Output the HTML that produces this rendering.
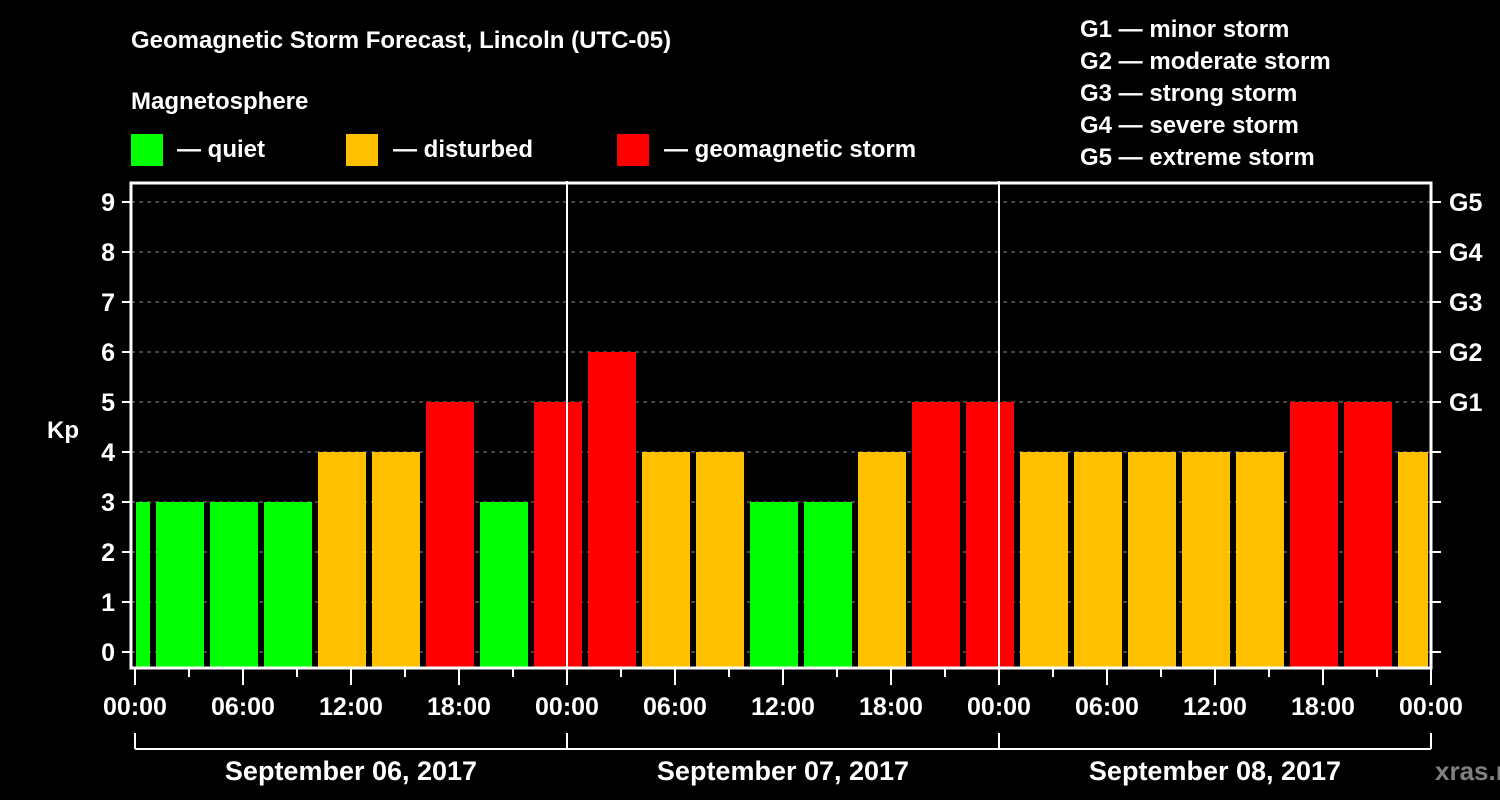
<!DOCTYPE html>
<html><head><meta charset="utf-8"><style>
body{margin:0;background:#000;width:1500px;height:800px;overflow:hidden}
svg{display:block}
text{font-family:"Liberation Sans",Arial,sans-serif;font-weight:bold;fill:#fff}
</style></head><body>
<svg id="c" width="1500" height="800" xmlns="http://www.w3.org/2000/svg">
<rect width="1500" height="800" fill="#000"/>
<text x="131" y="48" font-size="24">Geomagnetic Storm Forecast, Lincoln (UTC-05)</text>
<text x="131" y="109" font-size="24">Magnetosphere</text>
<g><rect x="131" y="134" width="32" height="32" fill="#00ff00"/><text x="177" y="157" font-size="24">— quiet</text></g>
<g><rect x="346" y="134" width="32" height="32" fill="#ffc000"/><text x="393" y="157" font-size="24">— disturbed</text></g>
<g><rect x="617" y="134" width="32" height="32" fill="#ff0000"/><text x="664" y="157" font-size="24">— geomagnetic storm</text></g>
<g font-size="24">
<text x="1080" y="37">G1 — minor storm</text>
<text x="1080" y="69">G2 — moderate storm</text>
<text x="1080" y="101">G3 — strong storm</text>
<text x="1080" y="133">G4 — severe storm</text>
<text x="1080" y="165">G5 — extreme storm</text>
</g>
<text x="63" y="438" font-size="24" text-anchor="middle">Kp</text>
<text x="1435" y="780" font-size="26" fill="#808080" style="fill:#808080">xras.ru</text>
<g id="plot"></g>
</svg>
<script>
const kpValues=[3,3,3,3,4,4,5,3,5,6,4,4,3,3,4,5,5,4,4,4,4,4,5,5,4];
const dayLabels=["September 06, 2017","September 07, 2017","September 08, 2017"];
const hourLabels=["00:00","06:00","12:00","18:00"];
const gLabels=["G1","G2","G3","G4","G5"];
const firstSlotHour=-2, slotHours=3, totalHours=72;
const NS="http://www.w3.org/2000/svg";
const X0=135,PXH=18,FL=131,FR=1431,FT=183,FB=668;
const x=h=>X0+h*PXH;
const y=k=>652-k*50;
const g=document.getElementById('plot');
function el(t,a,p){const e=document.createElementNS(NS,t);for(const k in a)e.setAttribute(k,a[k]);(p||g).appendChild(e);return e;}
// grid
for(let k=0;k<=9;k++){
 const l=el('line',{x1:FL,x2:FR,y1:y(k),y2:y(k),stroke:'#888','stroke-dasharray':'4,4','stroke-width':1});
 
 
 el('line',{x1:FL-9,x2:FL,y1:y(k),y2:y(k),stroke:'#fff','stroke-width':2});
 el('line',{x1:FR,x2:FR+10,y1:y(k),y2:y(k),stroke:'#fff','stroke-width':2});
 const t=el('text',{x:FL-16,y:y(k)+9,'font-size':25,'text-anchor':'end'});t.textContent=k;
 
 
}
gLabels.forEach((s,i)=>{const t=el('text',{x:1449,y:y(5+i)+9,'font-size':25});t.textContent=s;
 
 });
// bars
const colorOf=k=>k>=5?'#ff0000':(k>=4?'#ffc000':'#00ff00');
kpValues.forEach((v,i)=>{
 const h0=firstSlotHour+i*slotHours;
 let l=x(h0)+3,r=x(h0+slotHours)-3;
 l=Math.max(l,X0+1);r=Math.min(r,FR-3);
 if(r<=l)return;
 const b=el('rect',{x:l,y:y(v),width:r-l,height:FB-y(v),fill:colorOf(v)});
 
 
});
// day dividers
for(let d=1;d<3;d++){el('line',{x1:x(d*24),x2:x(d*24),y1:FT-2,y2:FB,stroke:'#fff','stroke-width':2});}
// frame
el('rect',{x:FL,y:FT,width:FR-FL,height:FB-FT,fill:'none',stroke:'#fff','stroke-width':3});
// x ticks
for(let h=0;h<=totalHours;h+=3){
 el('line',{x1:x(h),x2:x(h),y1:FB,y2:FB+(h%6==0?17:9),stroke:'#fff','stroke-width':2});
 if(h%6==0){const t=el('text',{x:x(h),y:715,'font-size':25,'text-anchor':'middle'});t.textContent=hourLabels[(h/6)%4];
 
 }
}
// day brackets
el('line',{x1:x(0),x2:x(totalHours),y1:749,y2:749,stroke:'#fff','stroke-width':2});
for(let d=0;d<=3;d++)el('line',{x1:x(d*24),x2:x(d*24),y1:733,y2:749,stroke:'#fff','stroke-width':2});
dayLabels.forEach((s,d)=>{const t=el('text',{x:x(d*24+12),y:780,'font-size':27,'text-anchor':'middle'});t.textContent=s;
 
 });
</script>
</body></html>
